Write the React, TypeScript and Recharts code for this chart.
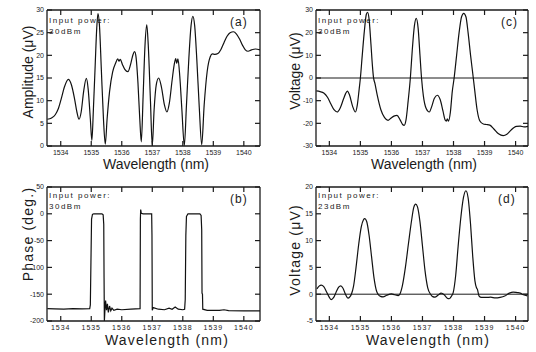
import React from 'react';
import { LineChart, Line, XAxis, YAxis, ReferenceLine } from 'recharts';

/* ── ticks ── */
const wlTicks = [1534, 1535, 1536, 1537, 1538, 1539, 1540];
const ampTicks = [0, 5, 10, 15, 20, 25, 30];
const phaseTicks = [-200, -150, -100, -50, 0, 50];
const volt30Ticks = [-30, -20, -10, 0, 10, 20, 30];
const volt23Ticks = [-5, 0, 5, 10, 15, 20];

/* ── (a) amplitude, 30 dBm ── */
const wlA = [
  1533.56, 1533.7, 1533.82, 1533.92, 1534.02, 1534.12, 1534.25, 1534.35, 1534.45, 1534.53,
  1534.6, 1534.67, 1534.75, 1534.84, 1534.9, 1534.97, 1535.02, 1535.07, 1535.13, 1535.18,
  1535.22, 1535.27, 1535.33, 1535.4, 1535.46, 1535.52, 1535.6, 1535.7, 1535.8, 1535.87,
  1535.91, 1535.95, 1536.02, 1536.1, 1536.2, 1536.3, 1536.37, 1536.42, 1536.47, 1536.53,
  1536.59, 1536.64, 1536.7, 1536.76, 1536.82, 1536.87, 1536.94, 1537.0, 1537.06, 1537.13,
  1537.21, 1537.3, 1537.4, 1537.48, 1537.56, 1537.65, 1537.72, 1537.77, 1537.8, 1537.84,
  1537.9, 1537.97, 1538.05, 1538.12, 1538.2, 1538.27, 1538.33, 1538.39, 1538.46, 1538.54,
  1538.62, 1538.7, 1538.8, 1538.9, 1538.97, 1539.05, 1539.15, 1539.25, 1539.35, 1539.45,
  1539.55, 1539.66, 1539.76, 1539.86, 1539.96, 1540.05, 1540.14, 1540.25, 1540.38, 1540.53,
];
const ampA = [
  5.9, 6.2, 6.9, 8.2, 10.5, 13.0, 14.7, 13.5, 10.5, 7.5,
  5.9, 7.5, 12, 14.9, 12.5, 6, 1.2, 8, 18, 26,
  29.2, 26.5, 17, 6, 0.4, 6, 12, 16.3, 18.3, 19.2,
  18.7, 19.1, 18, 16.9, 16.4, 18.3, 20.2, 20.8, 19.5, 14,
  6, 0.9, 11, 22, 26.7, 22, 10, 0.1, 8, 13.5,
  15, 13, 9, 7.5, 9.5, 14.5, 18, 19.3, 18.2, 19.2,
  15.5, 8, 0.1, 9, 19.5, 26.5, 28.6, 26.5, 19, 8.5,
  0.3, 9, 16.5, 19.7, 20.3, 20.2, 20.4, 21.3, 22.8, 24.2,
  25.0, 25.2, 24.7, 23.6, 22.2, 21.2, 20.9, 21.2, 21.4, 21.2,
];

/* ── (b) phase, 30 dBm ── */
const wlB = [
  1533.56, 1533.8, 1534.1, 1534.4, 1534.7, 1534.95, 1534.97, 1534.99, 1535.01, 1535.04,
  1535.08, 1535.35, 1535.39, 1535.41, 1535.42, 1535.43, 1535.45, 1535.47, 1535.5, 1535.53,
  1535.56, 1535.6, 1535.64, 1535.68, 1535.74, 1535.85, 1536.0, 1536.3, 1536.6, 1536.61,
  1536.62, 1536.64, 1536.7, 1536.98, 1536.99, 1537.0, 1537.03, 1537.2, 1537.4, 1537.55,
  1537.65, 1537.75, 1537.85, 1538.0, 1538.06, 1538.08, 1538.1, 1538.12, 1538.17, 1538.56,
  1538.6, 1538.62, 1538.63, 1538.645, 1538.655, 1538.8, 1539.2, 1539.35, 1539.5, 1540.0,
  1540.53,
];
const phaseB = [
  -177, -177.5, -178, -177, -177.5, -177, -170, -90, -10, -1,
  0, 0, -2, -20, -120, -200, -178, -162, -180, -168,
  -184, -172, -181, -176, -180, -178, -179, -178, -177, -10,
  8, 1, 0, 0, -40, -180, -175, -178, -179, -176,
  -178, -174, -178, -179, -178, -160, -40, -5, 0, 0,
  -3, -30, -148, -150, -178, -180, -180, -179, -180.5, -181,
  -181,
];

/* ── (c) voltage, 30 dBm ── */
const wlC = [
  1533.58, 1533.7, 1533.82, 1533.94, 1534.05, 1534.15, 1534.25, 1534.35, 1534.45, 1534.52,
  1534.58, 1534.65, 1534.75, 1534.84, 1534.9, 1534.96, 1535.0, 1535.06, 1535.13, 1535.19,
  1535.23, 1535.28, 1535.34, 1535.39, 1535.42, 1535.47, 1535.55, 1535.66, 1535.78, 1535.89,
  1535.98, 1536.08, 1536.18, 1536.28, 1536.36, 1536.41, 1536.47, 1536.54, 1536.61, 1536.67,
  1536.74, 1536.8, 1536.86, 1536.92, 1536.97, 1537.03, 1537.12, 1537.22, 1537.3, 1537.38,
  1537.48, 1537.57, 1537.66, 1537.73, 1537.77, 1537.8, 1537.84, 1537.9, 1537.96, 1538.02,
  1538.1, 1538.18, 1538.26, 1538.33, 1538.4, 1538.47, 1538.55, 1538.62, 1538.68, 1538.76,
  1538.85, 1538.96, 1539.06, 1539.17, 1539.3, 1539.45, 1539.6, 1539.72, 1539.85, 1539.95,
  1540.03, 1540.15, 1540.27, 1540.4,
];
const voltC = [
  -5.7, -6.0, -6.6, -8.5, -11.5, -14, -15, -13.2, -9.5, -7,
  -5.8, -7.5, -12.5, -15, -12, -5, 0, 10, 21, 28,
  29, 26, 15, 5, 0.5, -2.5, -8, -14, -17.5, -18.7,
  -17.8, -16.8, -16.5, -18.5, -20.5, -20.9, -18.5, -10, 0, 12,
  23, 26.3, 22, 10, 0, -8, -13.5, -15, -12.5, -9,
  -7.6, -9.5, -14.5, -18.5, -19, -18, -19, -15, -6, 0,
  10, 20, 27, 28.5, 27, 20, 10, 2, -5, -14,
  -19, -20.3, -20.5, -20.8, -22.5, -24.6, -25.4, -24.8, -23.0, -21.8,
  -21.3, -21.2, -21.6, -21.3,
];

/* ── (d) voltage, 23 dBm ── */
const wlD = [
  1533.6, 1533.67, 1533.74, 1533.82, 1533.92, 1534.0, 1534.06, 1534.14, 1534.22, 1534.3,
  1534.37, 1534.44, 1534.52, 1534.6, 1534.66, 1534.71, 1534.78, 1534.86, 1534.95, 1535.03,
  1535.1, 1535.14, 1535.2, 1535.28, 1535.36, 1535.44, 1535.52, 1535.57, 1535.65, 1535.73,
  1535.85, 1536.0, 1536.1, 1536.22, 1536.27, 1536.35, 1536.45, 1536.55, 1536.65, 1536.72,
  1536.78, 1536.84, 1536.92, 1537.0, 1537.08, 1537.17, 1537.26, 1537.33, 1537.4, 1537.5,
  1537.6, 1537.7, 1537.8, 1537.86, 1537.93, 1537.99, 1538.07, 1538.15, 1538.24, 1538.32,
  1538.4, 1538.47, 1538.55, 1538.62, 1538.69, 1538.74, 1538.77, 1538.82, 1538.9, 1539.05,
  1539.2, 1539.35, 1539.5, 1539.65, 1539.8, 1539.92, 1540.05, 1540.15, 1540.25, 1540.38,
];
const voltD = [
  1.0, 1.5, 1.7, 1.4, 0.3, -0.6, -1.0, -0.6, 0.4, 1.3,
  1.55, 1.1, 0, -0.75, -0.5, 0, 1.5, 5, 9.5, 12.6,
  13.9, 14.1, 13.6, 11, 7, 3, 0.6, 0, -0.4, -0.5,
  -0.2, 0.05, -0.1, -0.25, 0, 1.5, 5, 9.5, 13.8, 16.2,
  16.8, 16.3, 13.5, 9, 4.5, 1.2, 0, -0.45, -0.55, -0.2,
  0.2, -0.1, -0.75, -0.85, -0.4, 0.3, 3.5, 9, 14.5, 18,
  19.3, 18, 13, 7, 2.5, 1.2, 0.9, -0.3, -0.6, -0.6,
  -0.55, -0.7, -0.6, -0.35, 0.2, 0.4, 0.3, 0.2, -0.1, -0.3,
];

const zip = (xs: number[], ys: number[]) => xs.map((x, i) => ({ x, y: ys[i] }));

/* ── style ── */
const FONT = '"Liberation Sans", Arial, Helvetica, sans-serif';
const INK = '#1b1b1b';
const W = 268;
const H = 176;
const X_GAP = 4;
const Y_GAP = 3;
const TICK = 5;

const xTick = (plotTop: number, spacing: number) => (props: any) => {
  const { x, y, payload } = props;
  const axisY = y - X_GAP;
  return (
    <g>
      <line x1={x} x2={x} y1={axisY} y2={axisY - TICK} stroke={INK} strokeWidth={1.2} />
      <line x1={x} x2={x} y1={plotTop} y2={plotTop + TICK} stroke={INK} strokeWidth={1.2} />
      <text x={x} y={y} dy="0.71em" textAnchor="middle" fontSize={7} fill={INK}
        fontFamily={FONT} letterSpacing={spacing}>{payload.value}</text>
    </g>
  );
};

const yTick = (plotRight: number) => (props: any) => {
  const { x, y, payload } = props;
  const axisX = x + Y_GAP;
  return (
    <g>
      <line x1={axisX} x2={axisX + TICK} y1={y} y2={y} stroke={INK} strokeWidth={1.2} />
      <line x1={plotRight} x2={plotRight - TICK} y1={y} y2={y} stroke={INK} strokeWidth={1.2} />
      <text x={x} y={y} dy="0.35em" textAnchor="end" fontSize={7} fill={INK}
        fontFamily={FONT}>{payload.value}</text>
    </g>
  );
};

type PanelProps = {
  left: number; top: number;
  mTop: number; mRight: number; yW: number; xH: number;
  xDomain: [number, number];
  yDomain: [number, number]; yTicks: number[];
  data: { x: number; y: number }[];
  curve: 'monotone' | 'linear';
  zeroLine?: boolean;
  yTitle: string; yTitlePos: [number, number];
  xTitlePos: [number, number];
  note: [string, string]; noteY: number;
  tag: string; tagPos: [number, number];
  spacing: number;
};

function Panel(p: PanelProps) {
  const plotRight = W - p.mRight;
  const frame = { stroke: INK, strokeWidth: 1.3 };
  return (
    <div style={{ position: 'absolute', left: p.left, top: p.top }}>
      <LineChart width={W} height={H} data={p.data}
        margin={{ top: p.mTop, right: p.mRight, bottom: 0, left: 0 }}>
        <XAxis type="number" dataKey="x" domain={p.xDomain} allowDataOverflow ticks={wlTicks}
          interval={0} height={p.xH} tickSize={0} tickMargin={X_GAP} tickLine={false}
          axisLine={frame} tick={xTick(p.mTop, p.spacing * 0.8)} />
        <YAxis type="number" domain={p.yDomain} allowDataOverflow ticks={p.yTicks}
          interval={0} width={p.yW} tickSize={0} tickMargin={Y_GAP} tickLine={false}
          axisLine={frame} tick={yTick(plotRight)} />
        <ReferenceLine y={p.yDomain[1]} {...frame} />
        <ReferenceLine x={p.xDomain[1]} {...frame} />
        {p.zeroLine && <ReferenceLine y={0} stroke={INK} strokeWidth={1} />}
        <Line type={p.curve} dataKey="y" stroke="#111" strokeWidth={1.2} dot={false}
          isAnimationActive={false} />
        <text x={p.yTitlePos[0]} y={p.yTitlePos[1]} textAnchor="middle" dominantBaseline="central"
          transform={`rotate(-90 ${p.yTitlePos[0]} ${p.yTitlePos[1]})`}
          fontSize={14} fill={INK} fontFamily={FONT} letterSpacing={p.spacing}>{p.yTitle}</text>
        <text x={p.xTitlePos[0]} y={p.xTitlePos[1]} textAnchor="middle" fontSize={14} fill={INK}
          fontFamily={FONT} letterSpacing={p.spacing}>Wavelength (nm)</text>
        <text x={p.yW + 2} y={p.noteY} fontSize={8} fill={INK} fontFamily={FONT} letterSpacing={1.5}>
          <tspan x={p.yW + 2}>{p.note[0]}</tspan>
          <tspan x={p.yW + 2} dy={11}>{p.note[1]}</tspan>
        </text>
        <text x={p.tagPos[0]} y={p.tagPos[1]} fontSize={12} fill={INK} fontFamily={FONT}
          letterSpacing={1}>{p.tag}</text>
      </LineChart>
    </div>
  );
}

export default function App() {
  const leftX: [number, number] = [1533.55, 1540.53];
  const rightX: [number, number] = [1533.57, 1540.4];
  return (
    <div style={{ position: 'absolute', left: 0, top: 0, width: 536, height: 352, background: '#fff', overflow: 'hidden' }}>
      <Panel left={0} top={0} mTop={10} mRight={8} yW={47} xH={30}
        xDomain={leftX} yDomain={[0, 30]} yTicks={ampTicks} data={zip(wlA, ampA)} curve="monotone"
        yTitle="Amplitude (μV)" yTitlePos={[28, 72]} xTitlePos={[156, 169]}
        note={['Input power:', '30dBm']} noteY={23} tag="(a)" tagPos={[230, 26]} spacing={0} />
      <Panel left={0} top={176} mTop={11} mRight={8} yW={47} xH={31}
        xDomain={leftX} yDomain={[-200, 50]} yTicks={phaseTicks} data={zip(wlB, phaseB)} curve="linear"
        yTitle="Phase (deg.)" yTitlePos={[28, 58]} xTitlePos={[167, 169]}
        note={['Input power:', '30dBm']} noteY={22} tag="(b)" tagPos={[230, 27]} spacing={1.2} />
      <Panel left={268} top={0} mTop={10} mRight={8} yW={48} xH={30}
        xDomain={rightX} yDomain={[-30, 30]} yTicks={volt30Ticks} data={zip(wlC, voltC)} curve="monotone"
        zeroLine yTitle="Voltage (μV)" yTitlePos={[27, 71]} xTitlePos={[156, 169]}
        note={['Input power:', '30dBm']} noteY={23} tag="(c)" tagPos={[233, 26]} spacing={0} />
      <Panel left={268} top={176} mTop={11} mRight={8} yW={48} xH={31}
        xDomain={rightX} yDomain={[-5, 20]} yTicks={volt23Ticks} data={zip(wlD, voltD)} curve="monotone"
        zeroLine yTitle="Voltage (μV)" yTitlePos={[27, 74]} xTitlePos={[160, 169]}
        note={['Input power:', '23dBm']} noteY={22} tag="(d)" tagPos={[230, 27]} spacing={1.2} />
    </div>
  );
}
